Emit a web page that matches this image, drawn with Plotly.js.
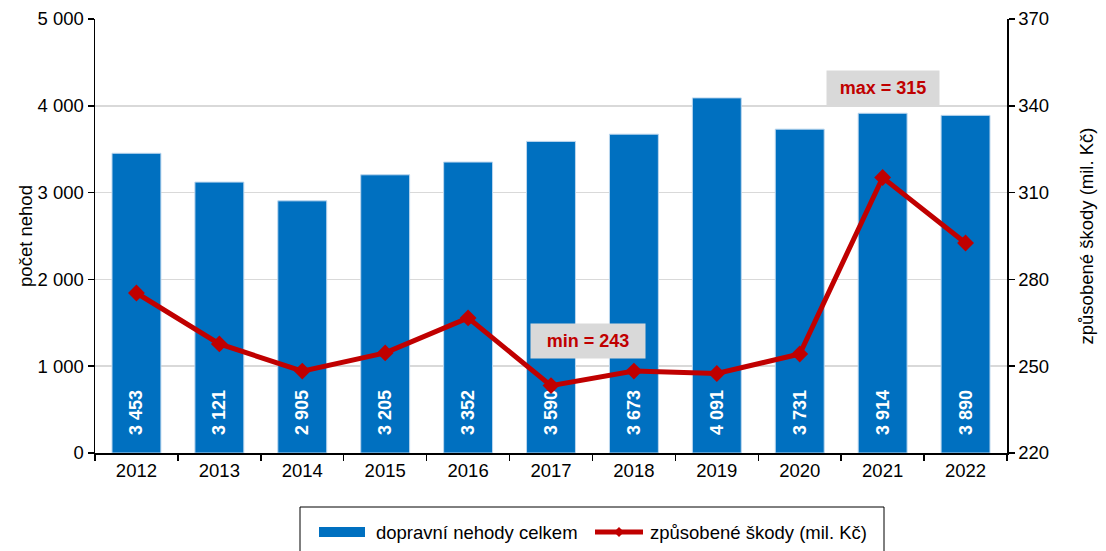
<!DOCTYPE html>
<html><head><meta charset="utf-8">
<script src="https://cdn.plot.ly/plotly-3.0.1.min.js"></script>
<style>body{margin:0;background:#fff}#c{width:1106px;height:551px}</style>
</head><body><div id="c"></div>
<script>
const years = ['2012','2013','2014','2015','2016','2017','2018','2019','2020','2021','2022'];
const accidents = [3453,3121,2905,3205,3352,3590,3673,4091,3731,3914,3890];
const damages = [275.3,257.7,248.3,254.6,266.7,243.3,248.3,247.5,254.2,315.2,292.6];
const barName = 'dopravní nehody celkem';
const lineName = 'způsobené škody (mil. Kč)';
const leftTitle = 'počet nehod';
const rightTitle = 'způsobené škody (mil. Kč)';
const minLabel = 'min = 243';
const maxLabel = 'max = 315';

const FAM = 'Liberation Sans, Arial, sans-serif';
const font = {family:FAM, size:18.5, color:'#000'};
const BLUE = '#0070c0', RED = '#c00000';

// plot-area geometry (pixels) for placing the hand-built legend
const W = 1106, H = 551, M = {l:95, r:99, t:19, b:98};
const PW = W - M.l - M.r, PH = H - M.t - M.b;
const px = v => (v - M.l) / PW;
const py = v => (H - M.b - v) / PH;

const traces = [
 {type:'bar', x:years, y:accidents, name:barName, showlegend:false,
  marker:{color:BLUE, line:{color:'#bdd7ee', width:1}},
  texttemplate:'\u00a0\u00a0\u00a0%{y:,}', textposition:'inside', insidetextanchor:'start', textangle:-90,
  textfont:{family:FAM, size:18, color:'#fff', weight:'bold'},
  hoverinfo:'none'},
 {type:'scatter', mode:'lines+markers', x:years, y:damages, yaxis:'y2', name:lineName, showlegend:false,
  line:{color:RED, width:5}, marker:{symbol:'diamond', size:13, color:RED},
  hoverinfo:'none'}
];

const legY = py(532);
const dx = 5, dy = 5;
const shapes = [
 {type:'rect', xref:'paper', yref:'paper', x0:px(300), x1:px(884), y0:py(507), y1:py(565), line:{color:'#000', width:1}, fillcolor:'rgba(0,0,0,0)'},
 {type:'rect', xref:'paper', yref:'paper', x0:px(319), x1:px(365), y0:py(527), y1:py(537), line:{width:0}, fillcolor:BLUE},
 {type:'line', xref:'paper', yref:'paper', x0:px(595), x1:px(643), y0:legY, y1:legY, line:{color:RED, width:5}},
 {type:'path', xref:'paper', yref:'paper',
  path:`M ${px(619-dx)},${legY} L ${px(619)},${py(532-dy)} L ${px(619+dx)},${legY} L ${px(619)},${py(532+dy)} Z`,
  line:{width:0}, fillcolor:RED}
];

const annFont = {family:FAM, size:18, color:RED, weight:'bold'};
const layout = {
 width:W, height:H, font:font, separators:', ',
 margin:M,
 paper_bgcolor:'#fff', plot_bgcolor:'#fff', bargap:0.41, showlegend:false,
 xaxis:{type:'category', range:[-0.5,10.5], automargin:false, showline:true, linecolor:'#000', linewidth:1.5, ticks:'outside', tickson:'boundaries', ticklen:6, tickcolor:'#000', tickwidth:1.5, showgrid:false, tickfont:font},
 yaxis:{range:[0,5000], dtick:1000, tick0:0, tickformat:',d', automargin:false, showline:true, linecolor:'#000', linewidth:1.5, ticks:'outside', ticklen:6, tickwidth:1.5, tickcolor:'#000', gridcolor:'#d9d9d9', gridwidth:1.5, zeroline:false, tickfont:font,
  title:{text:leftTitle, font:font, standoff:0}},
 yaxis2:{range:[220,370], tickmode:'linear', dtick:30, tick0:220, automargin:false, overlaying:'y', side:'right', showline:true, linecolor:'#000', linewidth:1.5, ticks:'outside', ticklen:6, tickwidth:1.5, tickcolor:'#000', showgrid:false, zeroline:false, tickfont:font,
  title:{text:rightTitle, font:font, standoff:32}},
 shapes:shapes,
 annotations:[
  {xref:'x', yref:'y2', x:5.45, y:258.8, text:minLabel, showarrow:false, bgcolor:'#d9d9d9', width:102, height:22, borderpad:6, font:annFont},
  {xref:'x', yref:'y2', x:9.0, y:346.3, text:maxLabel, showarrow:false, bgcolor:'#d9d9d9', width:100, height:22, borderpad:6, font:annFont},
  {xref:'paper', yref:'paper', x:px(374), y:legY, xanchor:'left', yanchor:'middle', text:barName, showarrow:false, font:font},
  {xref:'paper', yref:'paper', x:px(648), y:legY, xanchor:'left', yanchor:'middle', text:lineName, showarrow:false, font:font}
 ]
};
Plotly.newPlot('c', traces, layout, {displayModeBar:false, staticPlot:true});
</script></body></html>
